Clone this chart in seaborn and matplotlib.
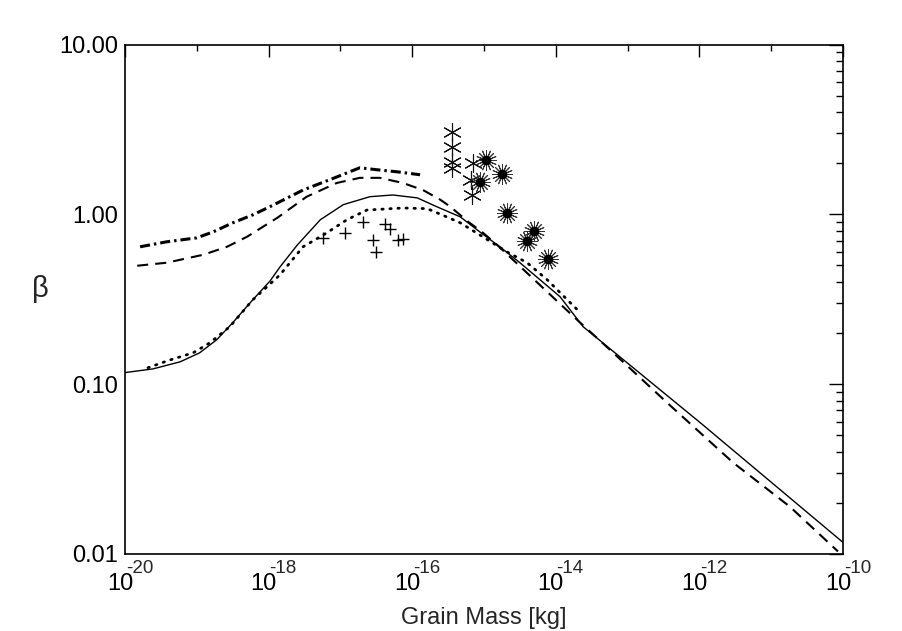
import numpy as np
import matplotlib
matplotlib.use("Agg")
import matplotlib.pyplot as plt
import matplotlib.ticker as mticker
import matplotlib.transforms as mtrans
import seaborn as sns

# log10 of grain mass [kg] and beta
solid_logm = [-20.0, -19.61, -19.23, -18.96, -18.72, -18.50, -18.22, -17.98, -17.84, -17.60,
              -17.28, -16.96, -16.59, -16.27, -15.93, -15.66, -15.33, -15.06, -14.78, -14.50,
              -14.22, -13.94, -13.62, -11.99, -10.0]
solid_beta = [0.117, 0.123, 0.1355, 0.153, 0.183, 0.230, 0.314, 0.405, 0.491, 0.66,
              0.929, 1.14, 1.27, 1.30, 1.25, 1.11, 0.966, 0.789, 0.644, 0.519,
              0.412, 0.327, 0.218, 0.0594, 0.0117]

dotted_logm = [-19.68, -19.37, -19.05, -18.82, -18.54, -18.22, -18.02, -17.84, -17.52, -17.19,
               -16.91, -16.63, -16.13, -15.79, -15.52, -15.33, -15.06, -14.68, -14.40, -14.12,
               -13.84, -13.66]
dotted_beta = [0.125, 0.139, 0.153, 0.175, 0.218, 0.314, 0.375, 0.441, 0.644, 0.778,
               0.929, 1.06, 1.09, 1.08, 0.966, 0.891, 0.757, 0.601, 0.519, 0.412,
               0.314, 0.264]

dashed_logm = [-19.83, -19.42, -18.91, -18.58, -18.30, -18.08, -17.88, -17.47, -17.05, -16.73,
               -16.45, -16.13, -15.85, -15.61, -15.47, -15.22, -15.03, -14.82, -13.66, -13.25,
               -12.45, -11.53, -10.74, -10.07]
dashed_beta = [0.498, 0.519, 0.578, 0.644, 0.738, 0.844, 0.953, 1.27, 1.53, 1.64,
               1.64, 1.53, 1.39, 1.22, 1.11, 0.904, 0.789, 0.662, 0.230, 0.160,
               0.0778, 0.0345, 0.0190, 0.01035]

dashdot_logm = [-19.79, -19.42, -19.00, -18.77, -18.50, -18.22, -17.98, -17.52, -17.05, -16.73,
                -16.49, -16.21, -15.89]
dashdot_beta = [0.644, 0.689, 0.727, 0.789, 0.891, 0.993, 1.11, 1.39, 1.66, 1.88,
                1.83, 1.78, 1.71]

plus_logm = [-17.24, -16.94, -16.69, -16.55, -16.50, -16.38, -16.31, -16.20, -16.13]
plus_beta = [0.727, 0.778, 0.904, 0.708, 0.601, 0.879, 0.822, 0.708, 0.718]

star_logm = [-15.45, -15.45, -15.45, -15.45, -15.15, -15.18, -15.17]
star_beta = [3.06, 2.49, 2.04, 1.88, 2.01, 1.60, 1.30]

sun_logm = [-14.97, -14.75, -15.06, -14.68, -14.30, -14.40, -14.11]
sun_beta = [2.09, 1.73, 1.55, 1.02, 0.800, 0.698, 0.547]

x_major = [-20, -18, -16, -14, -12, -10]
x_minor = [-19, -17, -15, -13, -11]
y_ticks = [0.01, 0.1, 1.0, 10.0]

sns.set_style("white")
plt.rcParams["font.family"] = ["Liberation Sans", "DejaVu Sans"]

fig = plt.figure(figsize=(9.02, 6.31), dpi=100)
ax = fig.add_axes([125 / 902, 1 - 554 / 631, 718 / 902, 509.5 / 631])
ax.set(xscale="log", yscale="log")

m = lambda v: 10.0 ** np.asarray(v)
sns.lineplot(x=m(solid_logm), y=solid_beta, ax=ax, color="k", lw=1.0,
             estimator=None, sort=False)
sns.lineplot(x=m(dotted_logm), y=dotted_beta, ax=ax, color="k", lw=2.0,
             linestyle=(0, (0.5, 2.4)), dash_capstyle="round", estimator=None, sort=False)
sns.lineplot(x=m(dashed_logm), y=dashed_beta, ax=ax, color="k", lw=1.5,
             linestyle=(0, (5.3, 3.4)), estimator=None, sort=False)
sns.lineplot(x=m(dashdot_logm), y=dashdot_beta, ax=ax, color="k", lw=2.2,
             linestyle=(0, (3.3, 1.3, 0.8, 1.3)), estimator=None, sort=False)

sns.scatterplot(x=m(plus_logm), y=plus_beta, ax=ax, marker="+", s=80, color="k",
                linewidth=1.0)
sns.scatterplot(x=m(star_logm), y=star_beta, ax=ax, marker=(6, 2, 0), s=170,
                color="#111111", linewidth=0.8)
sns.scatterplot(x=m(sun_logm), y=sun_beta, ax=ax, marker=(16, 2, 0), s=210,
                color="#333333", linewidth=0.7)
sns.scatterplot(x=m(sun_logm), y=sun_beta, ax=ax, marker="o", s=50,
                color="k", linewidth=0)

ax.set_xlim(1e-20, 1e-10)
ax.set_ylim(0.01, 10)
ax.xaxis.set_major_locator(mticker.FixedLocator(m(x_major)))
ax.xaxis.set_minor_locator(mticker.FixedLocator(m(x_minor)))
ax.xaxis.set_major_formatter(mticker.FixedFormatter(["10"] * len(x_major)))
ax.xaxis.set_minor_formatter(mticker.NullFormatter())
ax.yaxis.set_major_locator(mticker.FixedLocator(y_ticks))
ax.yaxis.set_minor_locator(mticker.LogLocator(base=10, subs=np.arange(2, 10), numticks=20))
ax.yaxis.set_major_formatter(mticker.FormatStrFormatter("%.2f"))
ax.yaxis.set_minor_formatter(mticker.NullFormatter())

ax.tick_params(which="both", direction="in", top=True, right=True, colors="k",
               width=1.0, labelsize=17)
ax.tick_params(axis="x", which="major", length=8.5, pad=13.5)
ax.tick_params(axis="x", which="minor", length=4.5)
ax.tick_params(axis="y", which="major", length=10, pad=5)
ax.tick_params(axis="y", which="minor", length=5)
for s in ax.spines.values():
    s.set_color("k"); s.set_linewidth(1.2)

# IDL-style exponents: "10" below the axis, exponent raised above its right half
shift = mtrans.ScaledTranslation(-5 / 100, 0, fig.dpi_scale_trans)
for lab in ax.get_xticklabels():
    lab.set_transform(lab.get_transform() + shift)
for e in x_major:
    ax.annotate(str(e), xy=(10.0 ** e, 0), xycoords=("data", "axes fraction"),
                xytext=(0.5, -4.5), textcoords="offset points", ha="left", va="top",
                fontsize=13.5)

ax.set_xlabel("Grain Mass [kg]", fontsize=17)
ax.xaxis.set_label_coords(0.5, -0.104)
ax.set_ylabel("β", fontsize=21, rotation=0, va="center", ha="center")
ax.yaxis.set_label_coords(-0.118, 0.52)

fig.savefig("out.png", dpi=100)
